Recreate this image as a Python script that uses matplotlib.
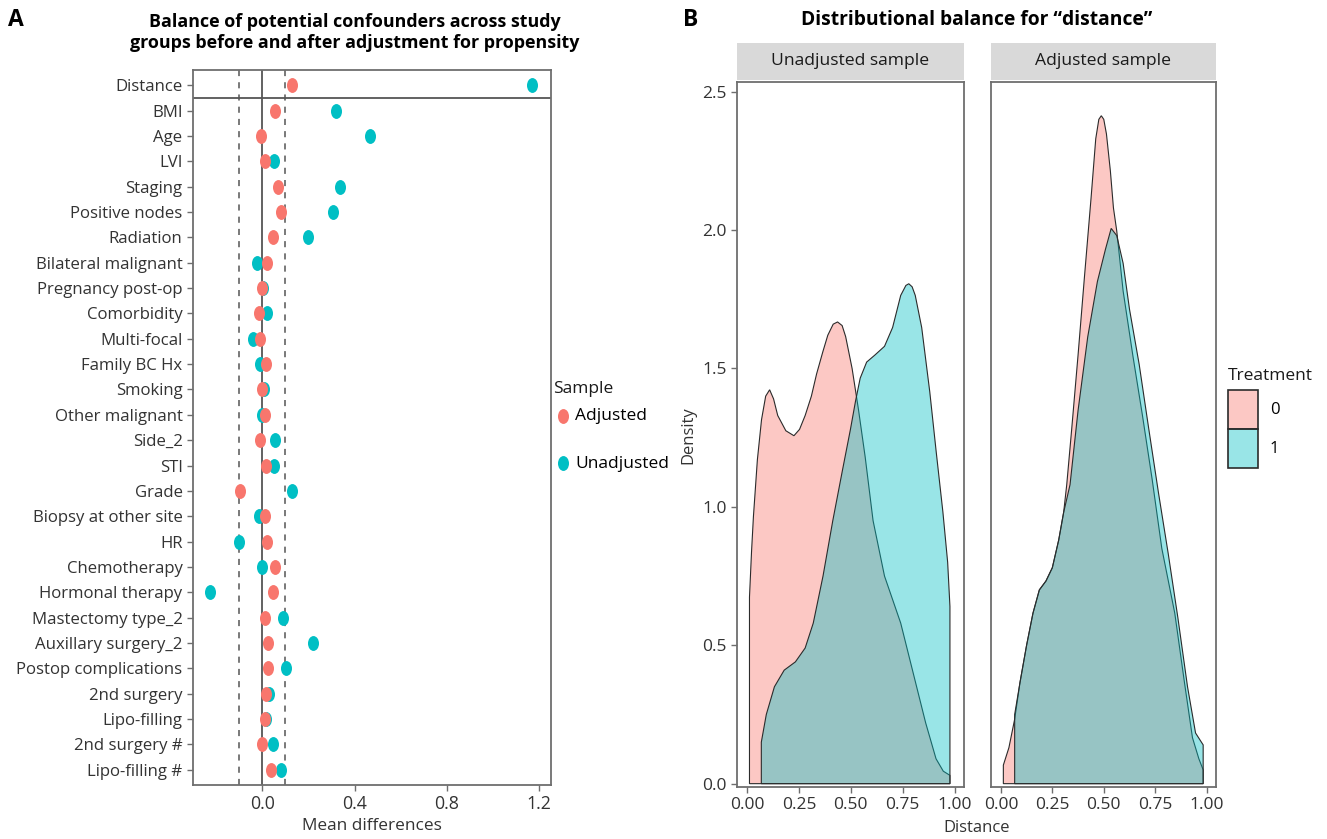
import numpy as np
import matplotlib
matplotlib.use('Agg')
import matplotlib.pyplot as plt
from matplotlib.markers import MarkerStyle
from matplotlib.transforms import Affine2D
from matplotlib.patches import Patch, Rectangle
from matplotlib.colors import to_rgba

# panel A: mean differences, top to bottom
covariates = ['Distance', 'BMI', 'Age', 'LVI', 'Staging', 'Positive nodes', 'Radiation',
              'Bilateral malignant', 'Pregnancy post-op', 'Comorbidity', 'Multi-focal',
              'Family BC Hx', 'Smoking', 'Other malignant', 'Side_2', 'STI', 'Grade',
              'Biopsy at other site', 'HR', 'Chemotherapy', 'Hormonal therapy',
              'Mastectomy type_2', 'Auxillary surgery_2', 'Postop complications',
              '2nd surgery', 'Lipo-filling', '2nd surgery #', 'Lipo-filling #']
adjusted = [0.127, 0.054, -0.007, 0.011, 0.069, 0.080, 0.045,
            0.021, 0.001, -0.015, -0.010,
            0.015, -0.003, 0.010, -0.008, 0.015, -0.095,
            0.011, 0.020, 0.056, 0.047,
            0.011, 0.027, 0.027,
            0.018, 0.011, 0.000, 0.036]
unadjusted = [1.168, 0.318, 0.468, 0.051, 0.339, 0.305, 0.200,
              -0.024, 0.002, 0.019, -0.040,
              -0.008, 0.006, -0.003, 0.057, 0.053, 0.128,
              -0.013, -0.102, 0.000, -0.227,
              0.090, 0.218, 0.103,
              0.029, 0.018, 0.047, 0.080]

# panel B: density of distance by treatment
unadj_t0_x = [0.012, 0.012, 0.022, 0.031, 0.050, 0.070, 0.090, 0.109, 0.128, 0.148, 0.187, 0.226, 0.253,
              0.280, 0.310, 0.335, 0.365, 0.389, 0.415, 0.436, 0.458, 0.475, 0.506, 0.537, 0.569, 0.607,
              0.662, 0.740, 0.800, 0.860, 0.910, 0.945, 0.977, 0.977]
unadj_t0_y = [0.0, 0.674, 0.84, 0.965, 1.17, 1.315, 1.40, 1.423, 1.39, 1.33, 1.275, 1.257, 1.28,
              1.33, 1.40, 1.48, 1.56, 1.62, 1.66, 1.668, 1.655, 1.615, 1.50, 1.35, 1.18, 0.95,
              0.75, 0.58, 0.40, 0.22, 0.09, 0.045, 0.03, 0.0]
unadj_t1_x = [0.069, 0.069, 0.093, 0.132, 0.179, 0.233, 0.280, 0.319, 0.366, 0.413, 0.459, 0.498,
              0.522, 0.545, 0.576, 0.615, 0.662, 0.701, 0.740, 0.765, 0.779, 0.795, 0.810, 0.841,
              0.880, 0.911, 0.943, 0.966, 0.977, 0.977]
unadj_t1_y = [0.0, 0.15, 0.25, 0.35, 0.41, 0.44, 0.49, 0.58, 0.75, 0.95, 1.13, 1.28,
              1.38, 1.465, 1.523, 1.548, 1.58, 1.648, 1.764, 1.80, 1.806, 1.795, 1.764, 1.648,
              1.415, 1.198, 0.982, 0.80, 0.64, 0.0]
adj_t0_x = [0.012, 0.012, 0.039, 0.067, 0.093, 0.125, 0.156, 0.187, 0.219, 0.250, 0.281, 0.305,
            0.320, 0.344, 0.375, 0.406, 0.438, 0.461, 0.476, 0.488, 0.500, 0.513, 0.532, 0.547,
            0.563, 0.594, 0.641, 0.688, 0.735, 0.782, 0.845, 0.892, 0.931, 0.962, 0.983, 0.983]
adj_t0_y = [0.0, 0.067, 0.13, 0.233, 0.366, 0.50, 0.616, 0.70, 0.732, 0.78, 0.88, 0.98,
            1.08, 1.28, 1.548, 1.83, 2.114, 2.33, 2.40, 2.413, 2.40, 2.347, 2.214, 2.08,
            1.997, 1.78, 1.548, 1.33, 1.10, 0.85, 0.616, 0.366, 0.166, 0.09, 0.05, 0.0]
adj_t1_x = [0.067, 0.067, 0.093, 0.125, 0.156, 0.187, 0.219, 0.250, 0.281, 0.305, 0.336, 0.375,
            0.422, 0.469, 0.508, 0.536, 0.563, 0.594, 0.625, 0.672, 0.719, 0.766, 0.813, 0.860,
            0.907, 0.946, 0.983, 0.983]
adj_t1_y = [0.0, 0.25, 0.366, 0.50, 0.616, 0.70, 0.732, 0.78, 0.88, 0.98, 1.08, 1.348,
            1.614, 1.814, 1.93, 2.006, 1.98, 1.88, 1.714, 1.515, 1.28, 1.05, 0.832, 0.60,
            0.35, 0.183, 0.14, 0.0]

RED = '#F8766D'
TEAL = '#00BFC4'
SPINE = '#6e6e6e'
TXT = '#333333'

plt.rcParams['font.family'] = ['Open Sans', 'DejaVu Sans']

fig = plt.figure(figsize=(13.27, 8.39), dpi=100)

# ---- panel A
axA = fig.add_axes([0.1454, 0.0644, 0.2698, 0.8522])
ypos = np.arange(len(covariates))[::-1] + 1
mk = MarkerStyle('o', transform=Affine2D().scale(0.74, 1.0))
axA.axvline(0, color='#555555', lw=1.3, zorder=1)
axA.axvline(-0.1, color='#555555', lw=1.1, ls=(0, (4, 4)), zorder=1)
axA.axvline(0.1, color='#555555', lw=1.1, ls=(0, (4, 4)), zorder=1)
axA.axhline(len(covariates) - 0.5, color='#555555', lw=1.3, zorder=1)
sc_u = axA.scatter(unadjusted, ypos, marker=mk, s=115, color=TEAL, linewidths=0, zorder=3, label='Unadjusted')
sc_a = axA.scatter(adjusted, ypos, marker=mk, s=115, color=RED, linewidths=0, zorder=4, label='Adjusted')
axA.set_xlim(-0.30, 1.251)
axA.set_ylim(0.4, len(covariates) + 0.6)
axA.set_yticks(ypos)
axA.set_yticklabels(covariates, fontsize=12.1, color=TXT)
axA.set_xticks([0.0, 0.4, 0.8, 1.2])
axA.set_xticklabels(['0.0', '0.4', '0.8', '1.2'], fontsize=12.8, color=TXT)
axA.tick_params(length=4, color=SPINE, width=1)
for s in axA.spines.values():
    s.set_color(SPINE)
    s.set_linewidth(1.3)
axA.set_xlabel('Mean differences', fontsize=12.4, color=TXT, labelpad=3)

fig.text(553 / 1327, 1 - 389 / 839, 'Sample', ha='left', va='center', fontsize=12.5, color='#1a1a1a')
fig.legend(handles=[sc_a, sc_u], labels=['Adjusted', 'Unadjusted'],
           loc='center left', bbox_to_anchor=(0.419, 1 - 440 / 839), frameon=False,
           fontsize=12.5, scatterpoints=1, handlelength=0.8,
           handletextpad=0.3, labelspacing=1.8, borderpad=0, borderaxespad=0)

fig.text(0.006, 0.976, 'A', fontsize=16.5, fontweight='bold', va='center')
fig.text(0.2675, 0.961, 'Balance of potential confounders across study\ngroups before and after adjustment for propensity',
         ha='center', va='center', fontsize=12.9, fontweight='bold', linespacing=1.22)

# ---- panel B
axU = fig.add_axes([0.5554, 0.062, 0.1711, 0.8403])
axD = fig.add_axes([0.7468, 0.062, 0.1695, 0.8403])
facets = [(axU, 'Unadjusted sample', unadj_t0_x, unadj_t0_y, unadj_t1_x, unadj_t1_y),
          (axD, 'Adjusted sample', adj_t0_x, adj_t0_y, adj_t1_x, adj_t1_y)]
for ax, name, x0, y0, x1, y1 in facets:
    ax.fill(x0, y0, facecolor=to_rgba(RED, 0.4), edgecolor='#2b2b2b', lw=0.8)
    ax.fill(x1, y1, facecolor=to_rgba(TEAL, 0.4), edgecolor='#2b2b2b', lw=0.8)
    ax.set_xlim(-0.048, 1.045)
    ax.set_ylim(-0.012, 2.535)
    ax.set_xticks([0, 0.25, 0.5, 0.75, 1.0])
    ax.set_xticklabels(['0.00', '0.25', '0.50', '0.75', '1.00'], fontsize=12.5, color=TXT)
    ax.tick_params(length=4, color=SPINE, width=1)
    for s in ax.spines.values():
        s.set_color(SPINE)
        s.set_linewidth(1.3)
    ax.add_patch(Rectangle((0, 1.003), 1, 0.0525, transform=ax.transAxes,
                           facecolor='#d9d9d9', edgecolor='none', clip_on=False))
    ax.text(0.5, 1.003 + 0.0525 / 2, name, transform=ax.transAxes, ha='center', va='center',
            fontsize=12.6, color='#1a1a1a')

axU.set_yticks([0, 0.5, 1.0, 1.5, 2.0, 2.5])
axU.set_yticklabels(['0.0', '0.5', '1.0', '1.5', '2.0', '2.5'], fontsize=12.5, color=TXT)
axD.set_yticks([])
fig.text(0.5185, 0.4815, 'Density', rotation=90, ha='center', va='center', fontsize=12, color=TXT)
fig.text(0.7359, 0.013, 'Distance', ha='center', va='center', fontsize=12, color=TXT)

fig.text(1228 / 1327, 1 - 376 / 839, 'Treatment', ha='left', va='center', fontsize=12.5, color='#1a1a1a')
handles = [Patch(facecolor=to_rgba(RED, 0.4), edgecolor='#2b2b2b', lw=1.2),
           Patch(facecolor=to_rgba(TEAL, 0.4), edgecolor='#2b2b2b', lw=1.2)]
fig.legend(handles=handles, labels=['0', '1'], loc='center left',
           bbox_to_anchor=(1228 / 1327, 1 - 429 / 839), frameon=False, fontsize=12,
           handlelength=1.8, handleheight=3.2, labelspacing=0, handletextpad=0.7,
           borderpad=0, borderaxespad=0)

fig.text(0.515, 0.976, 'B', fontsize=16.5, fontweight='bold', va='center')
fig.text(0.736, 0.976, 'Distributional balance for \u201cdistance\u201d', ha='center', va='center',
         fontsize=13.9, fontweight='bold')

fig.savefig('out.png', dpi=100)
